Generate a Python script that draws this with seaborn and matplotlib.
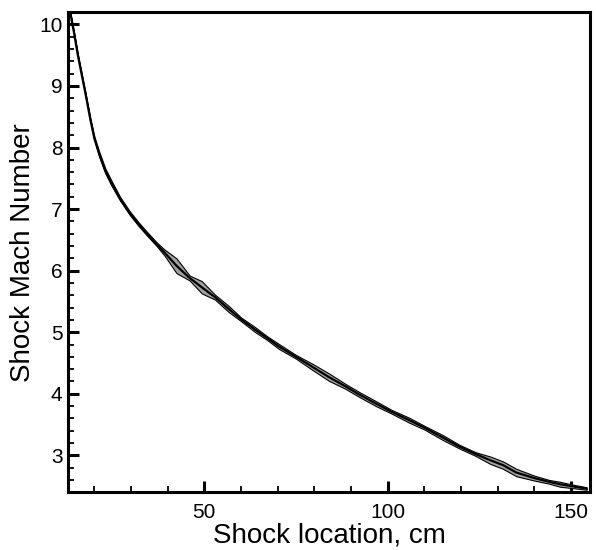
import numpy as np
import pandas as pd
import seaborn as sns
import matplotlib.pyplot as plt
from matplotlib.ticker import MultipleLocator

# Shock trajectory
location = [13.4, 14.5, 15.5, 16.5, 17.5, 18.9, 20.0, 21.4, 23.0, 24.6, 27.0,
            29.6, 32.0, 34.2, 37.0, 39.2, 42.4, 46.0, 49.3, 52.9, 56.6, 60.0,
            63.9, 67.0, 70.3, 75.0, 79.4, 84.0, 88.5, 92.2, 96.8, 101.0, 105.9,
            110.0, 115.0, 119.6, 124.0, 128.0, 131.5, 135.1, 140.0, 144.0,
            147.0, 150.0, 154.3]
mach = [10.2, 9.85, 9.5, 9.2, 8.9, 8.46, 8.15, 7.88, 7.62, 7.43, 7.17,
        6.94, 6.76, 6.61, 6.43, 6.29, 6.08, 5.88, 5.73, 5.57, 5.38, 5.21,
        5.04, 4.91, 4.77, 4.60, 4.44, 4.27, 4.12, 3.99, 3.84, 3.71, 3.57,
        3.45, 3.29, 3.14, 3.02, 2.92, 2.84, 2.72, 2.63, 2.57,
        2.53, 2.50, 2.46]
# half-width of the scattered band around the trajectory
spread = [0.01, 0.01, 0.02, 0.02, 0.02, 0.02, 0.03, 0.04, 0.04, 0.04, 0.03,
          0.03, 0.03, 0.03, 0.03, 0.05, 0.12, 0.04, 0.10, 0.04, 0.05, 0.03,
          0.04, 0.03, 0.04, 0.03, 0.05, 0.06, 0.04, 0.04, 0.04, 0.03, 0.04,
          0.03, 0.04, 0.03, 0.03, 0.06, 0.06, 0.06, 0.04, 0.03,
          0.04, 0.03, 0.02]

df = pd.DataFrame({'location': location, 'mach': mach, 'spread': spread})

sns.set_theme(style='ticks')
plt.rcParams['font.family'] = ['Liberation Sans', 'DejaVu Sans']
plt.rcParams['text.color'] = 'black'
plt.rcParams['axes.labelcolor'] = 'black'

fig = plt.figure(figsize=(5.96, 5.5), dpi=100)
ax = fig.add_axes([0.114, 0.105, 0.876, 0.873])

ax.fill_between(df['location'], df['mach'] - df['spread'], df['mach'] + df['spread'],
                facecolor='#a0a0a0', edgecolor='black', linewidth=0.8)
sns.lineplot(data=df, x='location', y='mach', color='black', linewidth=1.6, ax=ax)

ax.set_xlim(12.8, 155.2)
ax.set_ylim(2.4, 10.2)
ax.xaxis.set_major_locator(MultipleLocator(50))
ax.xaxis.set_minor_locator(MultipleLocator(10))
ax.yaxis.set_major_locator(MultipleLocator(1))
ax.yaxis.set_minor_locator(MultipleLocator(0.2))

for s in ax.spines.values():
    s.set_linewidth(2.2)
    s.set_color('black')
ax.tick_params(which='major', direction='in', length=8, width=2.2, labelsize=15,
               colors='black', labelcolor='black')
ax.tick_params(which='minor', direction='in', length=4.5, width=1.3, colors='black')
ax.tick_params(axis='x', which='major', pad=8)
ax.tick_params(axis='y', which='major', pad=4)

ax.set_xlabel('Shock location, cm', fontsize=20, labelpad=0)
ax.set_ylabel('Shock Mach Number', fontsize=20, labelpad=2)

fig.savefig('out.png', dpi=100)
